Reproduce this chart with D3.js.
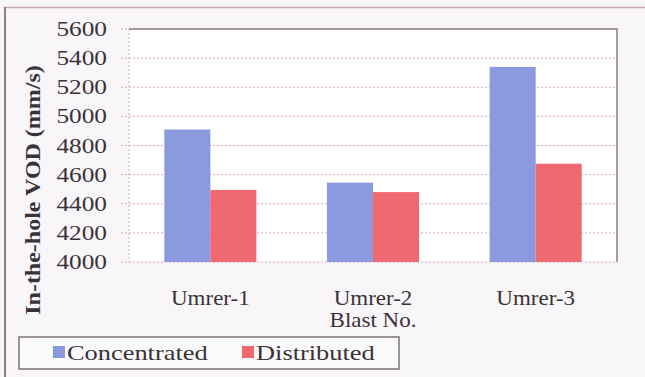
<!DOCTYPE html>
<html>
<head>
<meta charset="utf-8">
<script src="https://cdn.jsdelivr.net/npm/d3@7"></script>
<style>
  html, body { margin: 0; padding: 0; background: #f8f6f8; }
  svg { display: block; }
</style>
</head>
<body>
<svg id="chart" width="645" height="377"></svg>
<script>
// Blast sites and in-the-hole VOD per charging method
const categories = ["Umrer-1", "Umrer-2", "Umrer-3"];
const seriesNames = ["Concentrated", "Distributed"];
const concentrated = [4910, 4545, 5340];
const distributed = [4495, 4480, 4675];
const yTicks = [4000, 4200, 4400, 4600, 4800, 5000, 5200, 5400, 5600];
const colors = ["#8b9ade", "#ef6a70"];

const FONT = "'Liberation Serif', 'Times New Roman', 'DejaVu Serif', serif";
const svg = d3.select("#chart")
  .attr("font-family", FONT)
  .style("font-family", FONT);
const W = 645, H = 377;
const plot = { left: 129, right: 617, top: 29, bottom: 262 };
const stretch = 1.15;

// outer frame
svg.append("rect").attr("x", 0).attr("y", 0).attr("width", W).attr("height", H).attr("fill", "#f8f6f8");
svg.append("line").attr("x1", 5).attr("x2", W).attr("y1", 7.5).attr("y2", 7.5)
  .attr("stroke", "#c8a8b6").attr("stroke-width", 1.5);
svg.append("line").attr("x1", 5).attr("x2", 5).attr("y1", 7).attr("y2", H)
  .attr("stroke", "#8a8088").attr("stroke-width", 2);

const x0 = d3.scaleBand().domain(categories).range([plot.left, plot.right]).paddingInner(0).paddingOuter(0);
const groupW = x0.bandwidth() * 0.566;
const x1 = d3.scaleBand().domain(seriesNames).range([0, groupW]);
const y = d3.scaleLinear().domain([4000, 5600]).range([plot.bottom, plot.top]);

// plot area
svg.append("rect").attr("x", plot.left).attr("y", plot.top)
  .attr("width", plot.right - plot.left).attr("height", plot.bottom - plot.top).attr("fill", "#ffffff");

// gridlines
svg.append("g").selectAll("line").data(yTicks).join("line")
  .attr("x1", plot.left - 8).attr("x2", plot.right)
  .attr("y1", d => y(d)).attr("y2", d => y(d))
  .attr("stroke", "#dca6bb").attr("stroke-width", 1).attr("stroke-dasharray", "2,2");
svg.append("line").attr("x1", plot.left).attr("x2", plot.left)
  .attr("y1", plot.top).attr("y2", plot.bottom)
  .attr("stroke", "#dca6bb").attr("stroke-dasharray", "2,2");

// plot border top/right
svg.append("path")
  .attr("d", `M${plot.left},${plot.top}H${plot.right}V${plot.bottom}`)
  .attr("fill", "none").attr("stroke", "#8c8088").attr("stroke-width", 1.5);

// bars
const groups = svg.append("g").selectAll("g").data(categories).join("g")
  .attr("transform", c => `translate(${x0(c) + (x0.bandwidth() - groupW) / 2},0)`);
groups.selectAll("rect")
  .data((c, i) => [{ s: seriesNames[0], v: concentrated[i] }, { s: seriesNames[1], v: distributed[i] }])
  .join("rect")
  .attr("x", d => x1(d.s)).attr("width", x1.bandwidth())
  .attr("y", d => y(d.v)).attr("height", d => y(4000) - y(d.v))
  .attr("fill", (d, i) => colors[i]);

function stretchedText(parent, xPos, yPos, str, size, anchor, sx) {
  return parent.append("text")
    .attr("transform", `translate(${xPos},${yPos}) scale(${sx || stretch},1)`)
    .attr("text-anchor", anchor)
    .attr("font-family", FONT)
    .attr("font-size", size)
    .attr("fill", "#3a3238")
    .text(str);
}

// y tick labels
const yAxisG = svg.append("g");
yTicks.forEach(t => stretchedText(yAxisG, 107, y(t) + 7, t, 22, "end"));

// y title
svg.append("text")
  .attr("transform", `translate(40,190) rotate(-90) scale(1.2,1)`)
  .attr("text-anchor", "middle")
  .attr("font-family", FONT)
  .attr("font-size", 20)
  .attr("font-weight", "bold")
  .attr("fill", "#3a3238")
  .text("In-the-hole VOD (mm/s)");

// category labels
const xAxisG = svg.append("g");
categories.forEach(c => stretchedText(xAxisG, x0(c) + x0.bandwidth() / 2, 305, c, 20, "middle"));
stretchedText(xAxisG, x0("Umrer-2") + x0.bandwidth() / 2, 327, "Blast No.", 20, "middle");

// legend
const lg = svg.append("g");
lg.append("rect").attr("x", 19).attr("y", 337).attr("width", 380).attr("height", 32)
  .attr("fill", "#fbfafb").attr("stroke", "#7d7178").attr("stroke-width", 1.5);
const legendPos = [{ sq: 53, tx: 67 }, { sq: 242, tx: 256 }];
seriesNames.forEach((s, i) => {
  lg.append("rect").attr("x", legendPos[i].sq).attr("y", 346).attr("width", 12).attr("height", 12)
    .attr("fill", colors[i]);
  stretchedText(lg, legendPos[i].tx, 360, s, 22, "start", 1.2);
});
</script>
</body>
</html>
